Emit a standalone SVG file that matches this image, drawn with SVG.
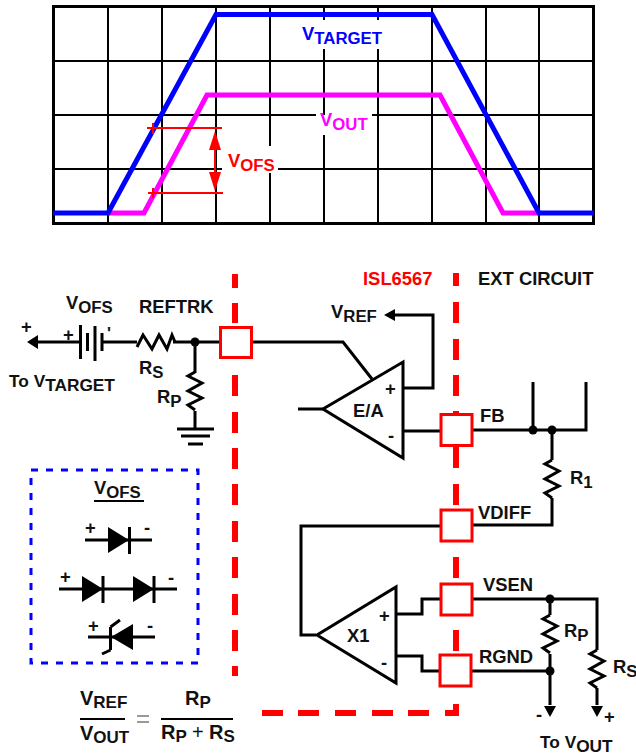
<svg xmlns="http://www.w3.org/2000/svg" width="636" height="755" viewBox="0 0 636 755">
<defs>
<style>
text{font-family:"Liberation Sans",Arial,sans-serif;font-weight:bold;fill:#111}
.w{fill:none;stroke:#000;stroke-width:3}
.g{fill:none;stroke:#000;stroke-width:2}
.pin{fill:#fff;stroke:#f00;stroke-width:3}
.b{fill:#000;stroke:none}
.l{font-size:18.400px}
.s{font-size:16.800px}
.m{font-size:17.300px}
.f{font-size:20px}
.fs{font-size:17px}
</style>
<path id="res" class="w" d="M0,0L-7,4L7,11L-7,19L7,26L-7,33L0,38"/>
</defs>
<rect width="636" height="755" fill="#fff"/>
<g id="chart">
<path class="g" d="M108,6V223M162,6V223M216,6V223M270,6V146M270,173V223M324,6V20M324,49V115M324,135V223M378,6V20M378,49V223M432,6V223M486,6V223M539,6V223"/>
<path class="g" d="M54,61H594M54,115H316M372,115H594M54,169H222M278,169H594"/>
<rect x="53.500" y="6.500" width="540" height="217" fill="none" stroke="#000" stroke-width="3"/>
<path d="M108,213H144L207,95H440L503,213H539" fill="none" stroke="#f0f" stroke-width="5"/>
<path d="M53,213H108L216,14.500H432L539,213H594" fill="none" stroke="#00f" stroke-width="5"/>
<path d="M147,128H222M148,193H223M153,123V134M153,188V198" fill="none" stroke="#f00" stroke-width="2"/>
<path d="M215,140V182" fill="none" stroke="#f00" stroke-width="2"/>
<path d="M215,131L221,150H209ZM215,191L221,172H209Z" fill="#f00"/>
<text x="302" y="40" class="l" style="fill:#00f">V<tspan dy="4" class="s">TARGET</tspan></text>
<text x="320" y="126" class="l" style="fill:#f0f">V<tspan dy="4" class="s">OUT</tspan></text>
<text x="228" y="167" class="l" style="fill:#f00">V<tspan dy="4" class="s">OFS</tspan></text>
</g>
<g id="boundary" fill="none" stroke="#f00" stroke-width="6">
<path d="M235,274V288M235,303V323M235,375V396M235,412V433M235,448V469M235,484V505M235,521V542M235,557V578M235,594V615M235,630V651M235,666V676"/>
<path d="M456,273V286M456,302V323M456,339V360M456,375V396M456,411V414M456,447V468M456,484V505M456,557V578M456,630V651M456,704V716M456,713H445M429,713H408M393,713H372M356,713H335M319,713H298M283,713H262"/>
</g>
<g id="connectors">
<path class="w" d="M38,342H79M103,342H137M173,342H220M195,342V373M195,411V429"/>
<path class="w" d="M137,347L143,335L152,349L159,335L167,349L172,335L175,342"/>
<use href="#res" transform="translate(195,372)"/>
<path class="w" d="M252,342H343L372,379"/>
<path class="w" d="M298,409H323M403,388H433V315H395M403,431H440M473,430H586V382M533,430V382M552,430V460M552,498V525H473M440,526H301V635H316"/>
<use href="#res" transform="translate(552,460)"/>
<path class="w" d="M396,614H422V599H440M396,656H422V671H440M473,599H597V650M597,688V705M550,599V615M550,654V705M472,671H550"/>
<use href="#res" transform="translate(550,615)"/>
<use href="#res" transform="translate(597,650)"/>
<path class="b" d="M27,342L38,335V349ZM384,315L395,309V321ZM550,717L544,706H556ZM597,717L591,706H603Z"/>
<circle class="b" cx="195" cy="342" r="4.500"/>
<circle class="b" cx="533" cy="430" r="4.500"/>
<circle class="b" cx="552" cy="430" r="4.500"/>
<circle class="b" cx="550" cy="599" r="4.500"/>
<circle class="b" cx="550" cy="671" r="4.500"/>
</g>
<g id="battery">
<path class="w" d="M80.500,325V359M87.500,333V351M95,326V361M102,333V351"/>
<text x="21" y="333" class="l">+</text><text x="63" y="341" class="l">+</text><text x="107" y="339" class="s">'</text>
<text x="66" y="309" class="l">V<tspan dy="4" class="s">OFS</tspan></text>
<text x="139" y="313" class="l">REFTRK</text>
<text x="9" y="387" class="m">To V<tspan dy="4">TARGET</tspan></text>
<text x="139" y="374" class="l">R<tspan dy="4" class="s">S</tspan></text>
<text x="157" y="403" class="l">R<tspan dy="4" class="s">P</tspan></text>
</g>
<g id="ground"><path class="w" d="M177,429H214M181,436H210M188,444H203"/></g>
<g id="pin-reftrk"><rect class="pin" x="220.500" y="327.500" width="31" height="30"/></g>
<g id="pin-fb"><rect class="pin" x="441" y="414.500" width="31" height="31"/><text x="480" y="422" class="l">FB</text></g>
<g id="pin-vdiff"><rect class="pin" x="441" y="510" width="31" height="31"/><text x="478" y="519" class="l">VDIFF</text></g>
<g id="pin-vsen"><rect class="pin" x="441" y="584" width="31" height="31"/><text x="483" y="591" class="l">VSEN</text></g>
<g id="pin-rgnd"><rect class="pin" x="440" y="655" width="31" height="31"/><text x="479" y="663" class="l">RGND</text></g>
<g id="ea"><path d="M403,362V458L323,409Z" fill="#fff" stroke="#000" stroke-width="3"/>
<text x="353" y="417" class="l">E/A</text><text x="385" y="395" class="l">+</text><text x="388" y="442" class="l">-</text></g>
<g id="x1"><path d="M396,587V683L317,635Z" fill="#fff" stroke="#000" stroke-width="3"/>
<text x="347" y="642" class="l">X1</text><text x="379" y="622" class="l">+</text><text x="381" y="669" class="l">-</text></g>
<g id="labels">
<text x="363" y="285" class="l" style="fill:#f00">ISL6567</text>
<text x="478" y="285" class="l">EXT CIRCUIT</text>
<text x="331" y="318" class="l">V<tspan dy="4" class="s">REF</tspan></text>
<text x="570" y="484" class="l">R<tspan dy="4" class="s">1</tspan></text>
<text x="564" y="637" class="l">R<tspan dy="4" class="s">P</tspan></text>
<text x="613" y="673" class="l">R<tspan dy="4" class="s">S</tspan></text>
<text x="536" y="721" class="l">-</text><text x="604" y="723" class="l">+</text>
<text x="540" y="748" class="m">To V<tspan dy="4">OUT</tspan></text>
</g>
<g id="vofs-options">
<rect x="31" y="470" width="167" height="193" fill="none" stroke="#00f" stroke-width="3" stroke-dasharray="7 8"/>
<text x="94" y="494" class="l">V<tspan dy="4" class="s">OFS</tspan></text>
<path class="g" d="M94,501H144"/>
<path class="w" d="M85,540H152M129.500,527V554M59,589H177M103,576V603M154,576V603M88,637H155M110.500,627V650M110.500,627L120,620M110.500,650L102,654"/>
<path class="b" d="M108,527L129,540L108,553ZM82,576L103,589L82,602ZM133,576L154,589L133,602ZM111,637L133,624V650Z"/>
<text x="85" y="534" class="l">+</text><text x="144" y="534" class="l">-</text>
<text x="60" y="583" class="l">+</text><text x="168" y="584" class="l">-</text>
<text x="88" y="632" class="l">+</text><text x="147" y="632" class="l">-</text>
</g>
<g id="formula">
<path class="g" d="M80,719H125M161,719H233"/>
<path d="M137,716H149M137,722H149" fill="none" stroke="#333" stroke-width="1"/>
<text x="80" y="705" class="f">V<tspan dy="3" class="fs">REF</tspan></text>
<text x="80" y="740" class="f">V<tspan dy="3" class="fs">OUT</tspan></text>
<text x="185" y="705" class="f">R<tspan dy="3" class="fs">P</tspan></text>
<text x="161" y="739" class="f">R<tspan dy="3" class="fs">P</tspan></text>
<text x="192" y="739" style="font-size:20px;font-weight:normal">+</text>
<text x="209" y="739" class="f">R<tspan dy="3" class="fs">S</tspan></text>
</g>
</svg>
